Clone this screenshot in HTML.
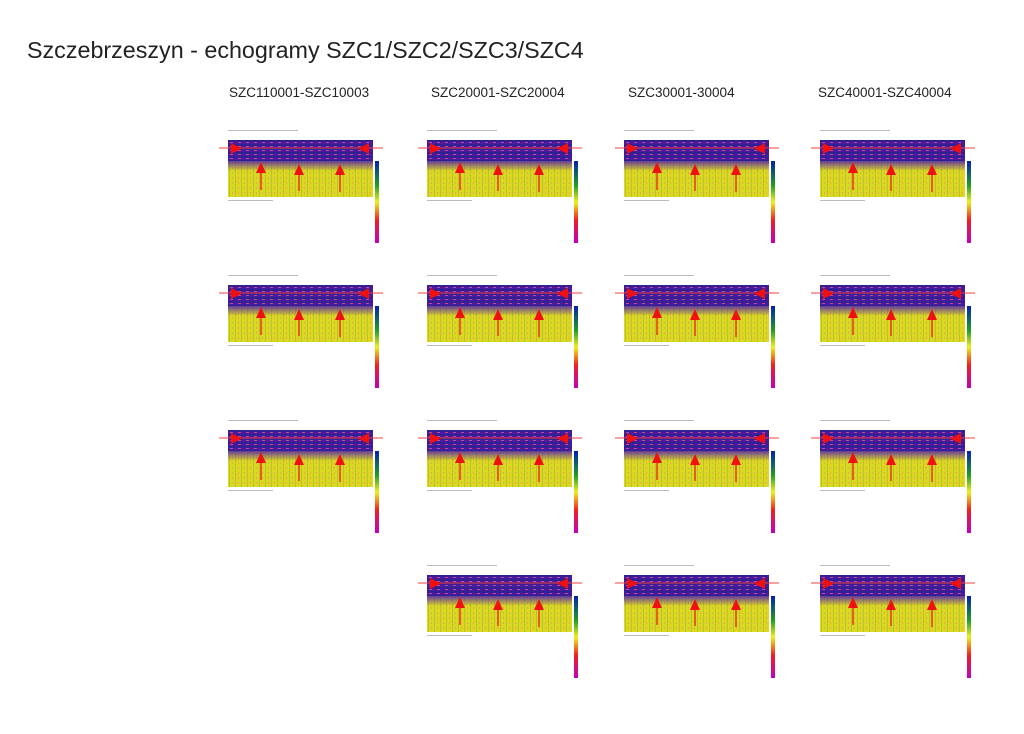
<!DOCTYPE html>
<html><head><meta charset="utf-8"><style>
body{margin:0;background:#fff;width:1024px;height:729px;overflow:hidden;font-family:"Liberation Sans",sans-serif}
</style></head><body>
<svg width="1024" height="729" viewBox="0 0 1024 729" xmlns="http://www.w3.org/2000/svg">
<defs>
<pattern id="pur" width="8" height="4" patternUnits="userSpaceOnUse">
<rect width="8" height="4" fill="#4a1aa0"/><rect y="0" width="8" height="1.5" fill="#2a2290"/><rect x="2" y="2" width="3" height="1" fill="#c04890"/>
</pattern>
<pattern id="yel" width="6" height="5" patternUnits="userSpaceOnUse">
<rect width="6" height="5" fill="#dcd820"/><rect x="1" y="0" width="1" height="5" fill="#b0c830"/><rect x="4" y="2" width="1" height="2" fill="#e8a850"/>
</pattern>
<linearGradient id="trans" x1="0" y1="0" x2="0" y2="1">
<stop offset="0" stop-color="#5a2aa8" stop-opacity="0.9"/><stop offset="1" stop-color="#5a2aa8" stop-opacity="0"/>
</linearGradient>
<linearGradient id="cb" x1="0" y1="0" x2="0" y2="1">
<stop offset="0" stop-color="#0020b0"/><stop offset="0.3" stop-color="#20a020"/><stop offset="0.5" stop-color="#f0f020"/><stop offset="0.72" stop-color="#f02020"/><stop offset="1" stop-color="#c000c0"/>
</linearGradient>
<g id="p">
<rect x="0" y="-10" width="70" height="1" fill="#bbb"/>
<rect x="0" y="0" width="145" height="57" fill="url(#yel)"/>
<rect x="0" y="0" width="145" height="21" fill="url(#pur)"/>
<rect x="0" y="21" width="145" height="10" fill="url(#trans)"/>
<rect x="0" y="60" width="45" height="1" fill="#bbb"/>
<line x1="-9" y1="8" x2="155" y2="8" stroke="#f04040" stroke-width="1"/>
<polygon points="3,3 3,14 14,8.5" fill="#f01010"/>
<polygon points="141,3 141,14 130,8.5" fill="#f01010"/>
<g fill="#f01010" stroke="#f01010">
<polygon points="28,33 38,33 33,22" stroke="none"/><line x1="33" y1="33" x2="33" y2="50" stroke-width="1.2"/>
<polygon points="66,35 76,35 71,24" stroke="none"/><line x1="71" y1="35" x2="71" y2="51" stroke-width="1.2"/>
<polygon points="107,35 117,35 112,24" stroke="none"/><line x1="112" y1="35" x2="112" y2="52" stroke-width="1.2"/>
</g>
<rect x="147" y="21" width="4" height="82" fill="url(#cb)"/>
</g>
</defs>
<text x="27" y="58" font-size="23.3" fill="#222" font-family="Liberation Sans, sans-serif">Szczebrzeszyn - echogramy SZC1/SZC2/SZC3/SZC4</text>
<g font-size="13.5" fill="#222">
<text x="229" y="97">SZC110001-SZC10003</text>
<text x="431" y="97">SZC20001-SZC20004</text>
<text x="628" y="97">SZC30001-30004</text>
<text x="818" y="97">SZC40001-SZC40004</text>
</g>
<use href="#p" x="228" y="140"/><use href="#p" x="228" y="285"/><use href="#p" x="228" y="430"/>
<use href="#p" x="427" y="140"/><use href="#p" x="427" y="285"/><use href="#p" x="427" y="430"/><use href="#p" x="427" y="575"/>
<use href="#p" x="624" y="140"/><use href="#p" x="624" y="285"/><use href="#p" x="624" y="430"/><use href="#p" x="624" y="575"/>
<use href="#p" x="820" y="140"/><use href="#p" x="820" y="285"/><use href="#p" x="820" y="430"/><use href="#p" x="820" y="575"/>
</svg>
</body></html>
